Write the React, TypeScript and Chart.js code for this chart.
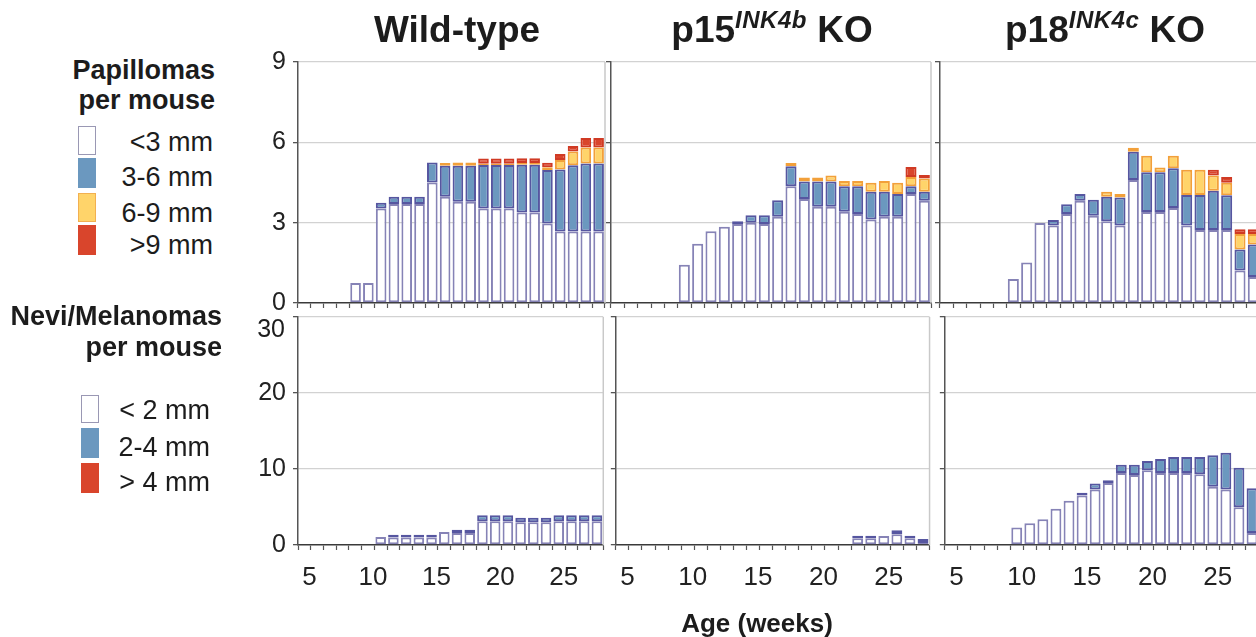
import React, { useEffect, useRef } from 'react';
import { Chart, registerables } from 'chart.js';

Chart.register(...registerables);

const FONT = '"Liberation Sans", Arial, Helvetica, sans-serif';
Chart.defaults.font.family = FONT;

// ---------- data ----------
const weeks = [5, 6, 7, 8, 9, 10, 11, 12, 13, 14, 15, 16, 17, 18, 19, 20, 21, 22, 23, 24, 25, 26, 27, 28];
const xTickLabels = [5, 10, 15, 20, 25];
const papTicks = [0, 3, 6, 9];
const neviTicks = [0, 10, 20, 30];

const panelTitles = ['Wild-type', 'p15', 'p18'];
const papLegend = ['<3 mm', '3-6 mm', '6-9 mm', '>9 mm'];
const neviLegend = ['< 2 mm', '2-4 mm', '> 4 mm'];

// Papillomas per mouse — Wild-type
const wtPapSmall = [null, null, null, null, 0.75, 0.75, 3.53, 3.7, 3.7, 3.7, 4.5, 3.97, 3.78, 3.78, 3.53, 3.53, 3.53, 3.38, 3.38, 2.97, 2.67, 2.67, 2.67, 2.67];
const wtPapMid = [null, null, null, null, null, null, 0.21, 0.27, 0.27, 0.27, 0.75, 1.16, 1.35, 1.35, 1.62, 1.62, 1.62, 1.78, 1.78, 2.0, 2.32, 2.47, 2.54, 2.54];
const wtPapLarge = [null, null, null, null, null, null, null, null, null, null, null, 0.1, 0.12, 0.12, 0.05, 0.05, 0.05, 0.07, 0.07, 0.1, 0.35, 0.52, 0.6, 0.6];
const wtPapHuge = [null, null, null, null, null, null, null, null, null, null, null, null, null, null, 0.2, 0.2, 0.2, 0.18, 0.18, 0.17, 0.22, 0.2, 0.35, 0.35];

// Papillomas per mouse — p15 KO
const p15PapSmall = [null, null, null, null, null, 1.43, 2.21, 2.68, 2.85, 2.95, 3.0, 2.95, 3.22, 4.36, 3.88, 3.59, 3.59, 3.41, 3.32, 3.12, 3.22, 3.22, 4.07, 3.82];
const p15PapMid = [null, null, null, null, null, null, null, null, null, 0.1, 0.28, 0.33, 0.62, 0.75, 0.66, 0.95, 0.95, 0.95, 1.04, 1.03, 0.93, 0.85, 0.29, 0.33];
const p15PapLarge = [null, null, null, null, null, null, null, null, null, null, null, null, null, 0.12, 0.15, 0.15, 0.22, 0.2, 0.2, 0.34, 0.41, 0.42, 0.35, 0.5];
const p15PapHuge = [null, null, null, null, null, null, null, null, null, null, null, null, null, null, null, null, null, null, null, null, null, null, 0.37, 0.13];

// Papillomas per mouse — p18 KO
const p18PapSmall = [null, null, null, null, null, 0.9, 1.51, 2.99, 2.89, 3.32, 3.82, 3.26, 3.05, 2.89, 4.59, 3.4, 3.4, 3.55, 2.89, 2.73, 2.73, 2.73, 1.21, 0.97];
const p18PapMid = [null, null, null, null, null, null, null, null, 0.21, 0.37, 0.25, 0.6, 0.92, 1.05, 1.06, 1.48, 1.48, 1.48, 1.14, 1.3, 1.46, 1.29, 0.79, 1.21];
const p18PapLarge = [null, null, null, null, null, null, null, null, null, null, null, null, 0.18, 0.13, 0.15, 0.62, 0.18, 0.47, 0.95, 0.95, 0.57, 0.47, 0.58, 0.4];
const p18PapHuge = [null, null, null, null, null, null, null, null, null, null, null, null, null, null, null, null, null, null, null, null, 0.22, 0.22, 0.17, 0.17];

// Nevi/Melanomas per mouse — Wild-type
const wtNeviSmall = [null, null, null, null, null, null, 1.05, 1.0, 1.0, 1.0, 1.0, 1.71, 1.58, 1.58, 3.11, 3.11, 3.11, 2.98, 2.98, 2.98, 3.11, 3.11, 3.11, 3.11];
const wtNeviMid = [null, null, null, null, null, null, null, 0.36, 0.36, 0.36, 0.36, null, 0.44, 0.44, 0.79, 0.79, 0.79, 0.6, 0.6, 0.6, 0.79, 0.79, 0.79, 0.79];

// Nevi/Melanomas per mouse — p15 KO
const p15NeviSmall = [null, null, null, null, null, null, null, null, null, null, null, null, null, null, null, null, null, null, 0.88, 0.88, 1.2, 1.4, 0.9, 0.26];
const p15NeviMid = [null, null, null, null, null, null, null, null, null, null, null, null, null, null, null, null, null, null, 0.35, 0.35, null, 0.53, 0.33, 0.53];

// Nevi/Melanomas per mouse — p18 KO
const p18NeviSmall = [null, null, null, null, null, 2.3, 2.87, 3.39, 4.78, 5.83, 6.52, 7.3, 8.17, 9.48, 9.22, 9.83, 9.48, 9.48, 9.48, 9.3, 7.65, 7.3, 4.96, 1.57];
const p18NeviMid = [null, null, null, null, null, null, null, null, null, null, 0.35, 0.78, 0.35, 1.09, 1.35, 1.21, 1.83, 2.09, 2.09, 2.27, 4.17, 4.83, 5.22, 5.91];

// ---------- styles ----------
const C_WHITE = { backgroundColor: '#ffffff', borderColor: '#8683b6' };
const C_BLUE = { backgroundColor: '#6b98bf', borderColor: '#5656a0' };
const C_YELLOW = { backgroundColor: '#ffd46a', borderColor: '#f2a03a' };
const C_RED = { backgroundColor: '#d9452c', borderColor: '#d03a24' };

function ds(label: string, data: (number | null)[], c: any) {
  return { label, data, ...c, borderWidth: 2, borderSkipped: false, stack: 's' };
}

const frame = {
  id: 'frame',
  beforeDatasetsDraw(chart: any) {
    const { ctx, chartArea } = chart;
    ctx.save();
    ctx.strokeStyle = '#c9c9c9';
    ctx.lineWidth = 1.5;
    ctx.beginPath();
    ctx.moveTo(chartArea.right, chartArea.top);
    ctx.lineTo(chartArea.right, chartArea.bottom);
    ctx.stroke();
    ctx.restore();
  },
};

type PanelProps = {
  datasets: any[];
  left: number; top: number; width: number; height: number;
  yAxisW: number; xAxisH: number; padTop: number; padRight: number;
  yTicks: number[]; showY: boolean; showX: boolean; hideTopLabel?: boolean;
};

function Panel(p: PanelProps) {
  const ref = useRef<HTMLCanvasElement>(null);
  useEffect(() => {
    const yMax = p.yTicks[p.yTicks.length - 1];
    const yStep = p.yTicks[1] - p.yTicks[0];
    const chart = new Chart(ref.current as HTMLCanvasElement, {
      type: 'bar',
      data: { labels: weeks.map(String), datasets: p.datasets },
      options: {
        animation: false,
        responsive: false,
        maintainAspectRatio: false,
        events: [],
        layout: { padding: { top: p.padTop, right: p.padRight, left: 0, bottom: 0 } },
        plugins: { legend: { display: false }, tooltip: { enabled: false } },
        datasets: { bar: { barPercentage: 0.83, categoryPercentage: 1 } },
        scales: {
          x: {
            stacked: true,
            offset: true,
            grid: { display: true, drawOnChartArea: false, drawTicks: true, tickLength: 5, offset: true, tickColor: '#555', tickWidth: 1.2 },
            border: { display: true, color: '#3a3a3a', width: 1.6 },
            ticks: {
              display: p.showX,
              autoSkip: false,
              maxRotation: 0,
              labelOffset: 5,
              padding: 12,
              color: '#222',
              font: { size: 26, family: FONT },
              callback: (_v: any, i: number) => (xTickLabels.includes(weeks[i]) ? String(weeks[i]) : ''),
            },
            afterFit: (s: any) => { s.height = p.xAxisH; },
          },
          y: {
            stacked: true,
            min: 0,
            max: yMax,
            grid: {
              color: (c: any) => (c.tick && c.tick.value === 0 ? 'rgba(0,0,0,0)' : '#d2d2d2'),
              lineWidth: 1.3,
              drawTicks: true,
              tickLength: 5,
              tickColor: '#555',
            },
            border: { display: true, color: '#555', width: 1.5 },
            ticks: {
              display: p.showY,
              stepSize: yStep,
              padding: 7,
              color: '#222',
              font: { size: 25, family: FONT },
              callback: (v: any) => (p.hideTopLabel && v === yMax ? '' : String(v)),
            },
            afterFit: (s: any) => { s.width = p.yAxisW; },
          },
        },
      },
      plugins: [frame],
    } as any);
    return () => chart.destroy();
  }, []);
  return (
    <canvas
      ref={ref}
      width={p.width}
      height={p.height}
      style={{ position: 'absolute', left: p.left, top: p.top, width: p.width, height: p.height }}
    />
  );
}

function Txt(props: { x: number; base: number; size: number; bold?: boolean; align: 'left' | 'right' | 'center'; children: any }) {
  const { x, base, size, bold, align, children } = props;
  const style: any = {
    position: 'absolute',
    top: base - 0.8465 * size,
    fontSize: size,
    lineHeight: size + 'px',
    fontWeight: bold ? 'bold' : 'normal',
    whiteSpace: 'nowrap',
    color: '#1c1c1c',
  };
  if (align === 'right') { style.right = 1256 - x; style.textAlign = 'right'; }
  else if (align === 'center') { style.left = x; style.transform = 'translateX(-50%)'; }
  else style.left = x;
  return <div style={style}>{children}</div>;
}

function Box(props: { x: number; y: number; w: number; h: number; bg: string; bd: string }) {
  return (
    <div style={{ position: 'absolute', left: props.x, top: props.y, width: props.w, height: props.h, background: props.bg, border: '1px solid ' + props.bd, boxSizing: 'border-box' }} />
  );
}

const TOP_Y0 = 62, TOP_H = 241, BOT_Y0 = 317, BOT_H = 228;
const PAD_TOP = 26;
const PANELS_X = [
  { x0: 298, w: 307 },
  { x0: 611, w: 320 },
  { x0: 940, w: 320 },
];

export default function App() {
  const papData = [
    [ds('<3 mm', wtPapSmall, C_WHITE), ds('3-6 mm', wtPapMid, C_BLUE), ds('6-9 mm', wtPapLarge, C_YELLOW), ds('>9 mm', wtPapHuge, C_RED)],
    [ds('<3 mm', p15PapSmall, C_WHITE), ds('3-6 mm', p15PapMid, C_BLUE), ds('6-9 mm', p15PapLarge, C_YELLOW), ds('>9 mm', p15PapHuge, C_RED)],
    [ds('<3 mm', p18PapSmall, C_WHITE), ds('3-6 mm', p18PapMid, C_BLUE), ds('6-9 mm', p18PapLarge, C_YELLOW), ds('>9 mm', p18PapHuge, C_RED)],
  ];
  const neviData = [
    [ds('< 2 mm', wtNeviSmall, C_WHITE), ds('2-4 mm', wtNeviMid, C_BLUE)],
    [ds('< 2 mm', p15NeviSmall, C_WHITE), ds('2-4 mm', p15NeviMid, C_BLUE)],
    [ds('< 2 mm', p18NeviSmall, C_WHITE), ds('2-4 mm', p18NeviMid, C_BLUE)],
  ];

  const supStyle: any = { fontSize: 24, fontStyle: 'italic', position: 'relative', top: -14, letterSpacing: 0.5 };

  return (
    <div style={{ position: 'absolute', left: 0, top: 0, width: 1256, height: 637, overflow: 'hidden', background: '#fff', fontFamily: FONT }}>
      {PANELS_X.map((px, i) => {
        const yAxisW = i === 0 ? 60 : 8;
        return (
          <React.Fragment key={i}>
            <Panel
              datasets={papData[i]}
              left={px.x0 - yAxisW}
              top={TOP_Y0 - PAD_TOP}
              width={yAxisW + px.w + 4}
              height={PAD_TOP + TOP_H + 26}
              yAxisW={yAxisW}
              xAxisH={26}
              padTop={PAD_TOP}
              padRight={4}
              yTicks={papTicks}
              showY={i === 0}
              showX={false}
            />
            <Panel
              datasets={neviData[i]}
              left={px.x0 - yAxisW}
              top={BOT_Y0 - PAD_TOP}
              width={yAxisW + px.w + 4}
              height={PAD_TOP + BOT_H + 62}
              yAxisW={yAxisW}
              xAxisH={62}
              padTop={PAD_TOP}
              padRight={4}
              yTicks={neviTicks}
              showY={i === 0}
              showX={true}
              hideTopLabel={true}
            />
          </React.Fragment>
        );
      })}

      {/* top tick label of the nevi axis, set a little lower as in the original */}
      <Txt x={285} base={337} size={25} align="right">{String(neviTicks[neviTicks.length - 1])}</Txt>

      {/* panel titles */}
      <Txt x={457} base={42.7} size={37} bold align="center">{panelTitles[0]}</Txt>
      <Txt x={772} base={42.7} size={37} bold align="center">
        {panelTitles[1]}<span style={supStyle}>INK4b</span> KO
      </Txt>
      <Txt x={1105} base={42.7} size={37} bold align="center">
        {panelTitles[2]}<span style={supStyle}>INK4c</span> KO
      </Txt>

      {/* papilloma legend */}
      <Txt x={215} base={80} size={27} bold align="right">Papillomas</Txt>
      <Txt x={215} base={110} size={27} bold align="right">per mouse</Txt>
      <Box x={78} y={126} w={18} h={29} bg="#ffffff" bd="#9a98b4" />
      <Box x={78} y={158} w={18} h={30} bg="#6b98bf" bd="#6b98bf" />
      <Box x={78} y={193} w={18} h={29} bg="#ffd46a" bd="#f2b050" />
      <Box x={78} y={225} w={18} h={30} bg="#d9452c" bd="#d9452c" />
      <Txt x={213} base={151.5} size={27} align="right">{papLegend[0]}</Txt>
      <Txt x={213} base={187} size={27} align="right">{papLegend[1]}</Txt>
      <Txt x={213} base={223} size={27} align="right">{papLegend[2]}</Txt>
      <Txt x={213} base={255} size={27} align="right">{papLegend[3]}</Txt>

      {/* nevi legend */}
      <Txt x={222} base={326} size={27} bold align="right">Nevi/Melanomas</Txt>
      <Txt x={222} base={357} size={27} bold align="right">per mouse</Txt>
      <Box x={81} y={395} w={18} h={28} bg="#ffffff" bd="#9a98b4" />
      <Box x={81} y={428} w={18} h={30} bg="#6b98bf" bd="#6b98bf" />
      <Box x={81} y={463} w={18} h={30} bg="#d9452c" bd="#d9452c" />
      <Txt x={210} base={420} size={27} align="right">{neviLegend[0]}</Txt>
      <Txt x={210} base={456.5} size={27} align="right">{neviLegend[1]}</Txt>
      <Txt x={210} base={492} size={27} align="right">{neviLegend[2]}</Txt>

      {/* x axis title */}
      <Txt x={757} base={632} size={26} bold align="center">Age (weeks)</Txt>
    </div>
  );
}
